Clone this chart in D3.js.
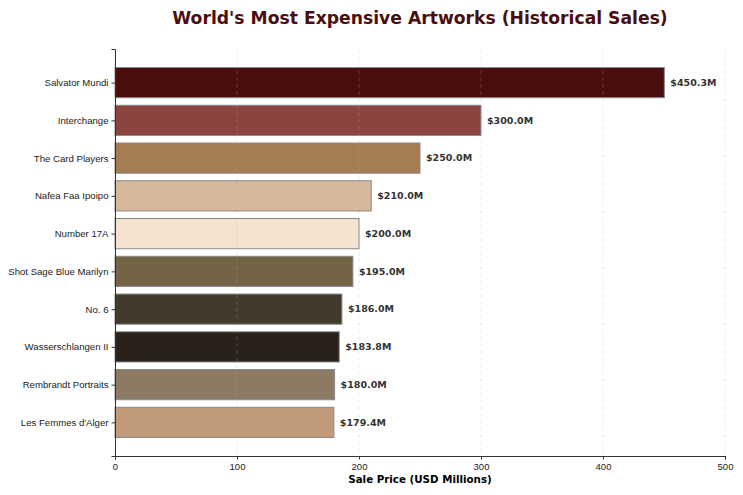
<!DOCTYPE html>
<html>
<head>
<meta charset="utf-8">
<script src="https://cdn.jsdelivr.net/npm/d3@7"></script>
<style>
  body { margin: 0; background: #fff; }
  svg { font-family: "DejaVu Sans", sans-serif; }
</style>
</head>
<body>
<svg width="743" height="495"></svg>
<script>
// chart data
var artworks = ['Salvator Mundi', 'Interchange', 'The Card Players', 'Nafea Faa Ipoipo', 'Number 17A',
  'Shot Sage Blue Marilyn', 'No. 6', 'Wasserschlangen II', 'Rembrandt Portraits', "Les Femmes d'Alger"]
var prices = [450.3, 300.0, 250.0, 210.0, 200.0, 195.0, 186.0, 183.8, 180.0, 179.4]
var colors = ['#4b0e0f', '#8d443e', '#a67c52', '#d8b89a', '#f3e3d0',
  '#746446', '#413a2d', '#2b211b', '#8d7a64', '#c09a79']
var xTicks = [0, 100, 200, 300, 400, 500]

var svg = d3.select('svg')
var plotLeft = 115, plotRight = 725, plotTop = 49, plotBottom = 456

var x = d3.scaleLinear().domain([0, 500]).range([plotLeft, plotRight])
// matplotlib style: bars of height 0.8 with 5% margins
var y = d3.scaleLinear().domain([-0.89, artworks.length - 1 + 0.89]).range([plotTop, plotBottom])
var barH = y(0.4) - y(-0.4)

// bars
svg.selectAll('rect.bar')
  .data(prices)
  .enter()
  .append('rect')
  .attr('class', 'bar')
  .attr('x', x(0))
  .attr('y', (d, i) => y(i) - barH / 2)
  .attr('width', (d) => x(d) - x(0))
  .attr('height', barH)
  .style('fill', (d, i) => colors[i])
  .style('stroke', '#8a8a8a')
  .style('stroke-width', 1)

// dashed grid on top
svg.selectAll('line.grid')
  .data(xTicks)
  .enter()
  .append('line')
  .attr('class', 'grid')
  .attr('x1', (d) => x(d))
  .attr('x2', (d) => x(d))
  .attr('y1', plotTop)
  .attr('y2', plotBottom)
  .style('stroke', '#b0b0b0')
  .style('stroke-opacity', 0.25)
  .style('stroke-dasharray', '4,3')

// value labels
svg.selectAll('text.val')
  .data(prices)
  .enter()
  .append('text')
  .attr('class', 'val')
  .attr('x', (d) => x(d) + 6)
  .attr('y', (d, i) => y(i))
  .attr('dy', '0.35em')
  .style('font-size', '9.5px')
  .style('font-weight', 'bold')
  .style('fill', '#333')
  .text((d) => '$' + d.toFixed(1) + 'M')

// x axis
var xAxis = svg.append('g')
  .attr('transform', 'translate(0,' + plotBottom + ')')
  .call(d3.axisBottom(x).tickValues(xTicks).tickSize(3.5).tickPadding(3.5))
xAxis.selectAll('text').style('font-size', '9.5px').style('fill', '#222')

// y axis
var yAxis = svg.append('g')
  .attr('transform', 'translate(' + plotLeft + ',0)')
  .call(d3.axisLeft(y).tickValues(d3.range(artworks.length)).tickFormat((i) => artworks[i]).tickSize(3.5).tickPadding(3))
yAxis.selectAll('text').style('font-size', '9.6px').style('fill', '#222')

svg.selectAll('.domain').style('stroke', '#333')
svg.selectAll('.tick line').style('stroke', '#333')

// title
svg.append('text')
  .attr('x', (plotLeft + plotRight) / 2)
  .attr('y', 24)
  .attr('text-anchor', 'middle')
  .style('font-size', '17.2px')
  .style('font-weight', 'bold')
  .style('fill', '#4b0e0f')
  .text("World's Most Expensive Artworks (Historical Sales)")

// x label
svg.append('text')
  .attr('x', (plotLeft + plotRight) / 2)
  .attr('y', 483)
  .attr('text-anchor', 'middle')
  .style('font-size', '10.3px')
  .style('font-weight', 'bold')
  .style('fill', '#000')
  .text('Sale Price (USD Millions)')
</script>
</body>
</html>
